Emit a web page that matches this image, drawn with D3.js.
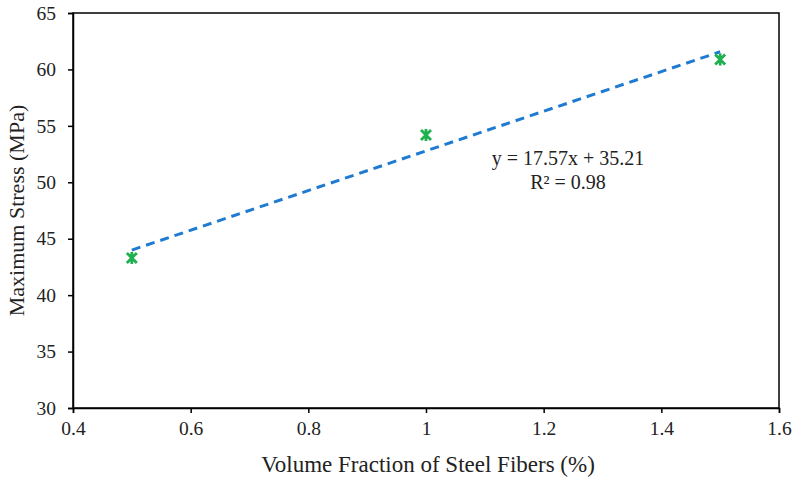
<!DOCTYPE html>
<html><head><meta charset="utf-8">
<script src="https://cdn.jsdelivr.net/npm/d3@7"></script>
<style>body{margin:0;background:#fff}svg{display:block}</style>
</head><body>
<script>
const xValues = [0.5, 1.0, 1.5];
const yValues = [43.3, 54.2, 60.87];
const trendSlope = [17.57];
const trendIntercept = [35.21];
const xTicks = [0.4, 0.6, 0.8, 1.0, 1.2, 1.4, 1.6];
const xTickLabels = ["0.4", "0.6", "0.8", "1", "1.2", "1.4", "1.6"];
const yTicks = [30, 35, 40, 45, 50, 55, 60, 65];
const equationText = ["y = 17.57x + 35.21", "R² = 0.98"];

const W = 796, H = 482;
const m = {left: 73, right: 17, top: 13, bottom: 74};
const svg = d3.select("body").append("svg").attr("width", W).attr("height", H);
const x = d3.scaleLinear().domain([0.4, 1.6]).range([m.left, W - m.right]);
const y = d3.scaleLinear().domain([30, 65]).range([H - m.bottom, m.top]);
const font = "'Liberation Serif','Times New Roman',serif";

// frame
svg.append("rect").attr("x", x(0.4)).attr("y", y(65))
  .attr("width", x(1.6) - x(0.4)).attr("height", y(30) - y(65))
  .attr("fill", "none").attr("stroke", "#000").attr("stroke-width", 1.5);

const xAxis = svg.append("g").attr("transform", `translate(0,${y(30)})`)
  .call(d3.axisBottom(x).tickValues(xTicks).tickSize(5).tickPadding(8)
    .tickFormat((d, i) => xTickLabels[i]));
const yAxis = svg.append("g").attr("transform", `translate(${x(0.4)},0)`)
  .call(d3.axisLeft(y).tickValues(yTicks).tickSize(5).tickPadding(12));
[xAxis, yAxis].forEach(g => {
  g.select(".domain").attr("stroke", "#000").attr("stroke-width", 1.5);
  g.selectAll(".tick line").attr("stroke", "#000").attr("stroke-width", 1.5);
  g.selectAll("text").attr("font-family", font).attr("font-size", 19.5).attr("fill", "#222");
});

// trendline
const x0 = d3.min(xValues), x1 = d3.max(xValues);
const f = v => trendSlope[0] * v + trendIntercept[0];
svg.append("line")
  .attr("x1", x(x0)).attr("y1", y(f(x0)))
  .attr("x2", x(x1)).attr("y2", y(f(x1)))
  .attr("stroke", "#1f7bd2").attr("stroke-width", 3)
  .attr("stroke-dasharray", "9,6");

// markers (star: X + vertical line)
const s = 5;
const mk = svg.append("g").selectAll("g").data(xValues.map((d, i) => [d, yValues[i]]))
  .join("g").attr("transform", d => `translate(${x(d[0])},${y(d[1])})`);
mk.append("path")
  .attr("d", `M${-s},${-s}L${s},${s}M${-s},${s}L${s},${-s}M0,${-s - 1}L0,${s + 1}`)
  .attr("stroke", "#1fb04f").attr("stroke-width", 2.8).attr("fill", "none");

// equation
svg.append("g").selectAll("text").data(equationText).join("text")
  .attr("x", 568).attr("y", (d, i) => 165 + i * 24)
  .attr("text-anchor", "middle").attr("font-family", font).attr("font-size", 20)
  .attr("fill", "#222").text(d => d);

// axis titles
svg.append("text").attr("x", (x(0.4) + x(1.6)) / 2 + 2).attr("y", 472)
  .attr("text-anchor", "middle").attr("font-family", font).attr("font-size", 23)
  .attr("fill", "#222").text("Volume Fraction of Steel Fibers (%)");
svg.append("text").attr("transform", `translate(24,${(y(30) + y(65)) / 2}) rotate(-90)`)
  .attr("text-anchor", "middle").attr("font-family", font).attr("font-size", 22)
  .attr("fill", "#222").text("Maximum Stress (MPa)");
</script>
</body></html>
